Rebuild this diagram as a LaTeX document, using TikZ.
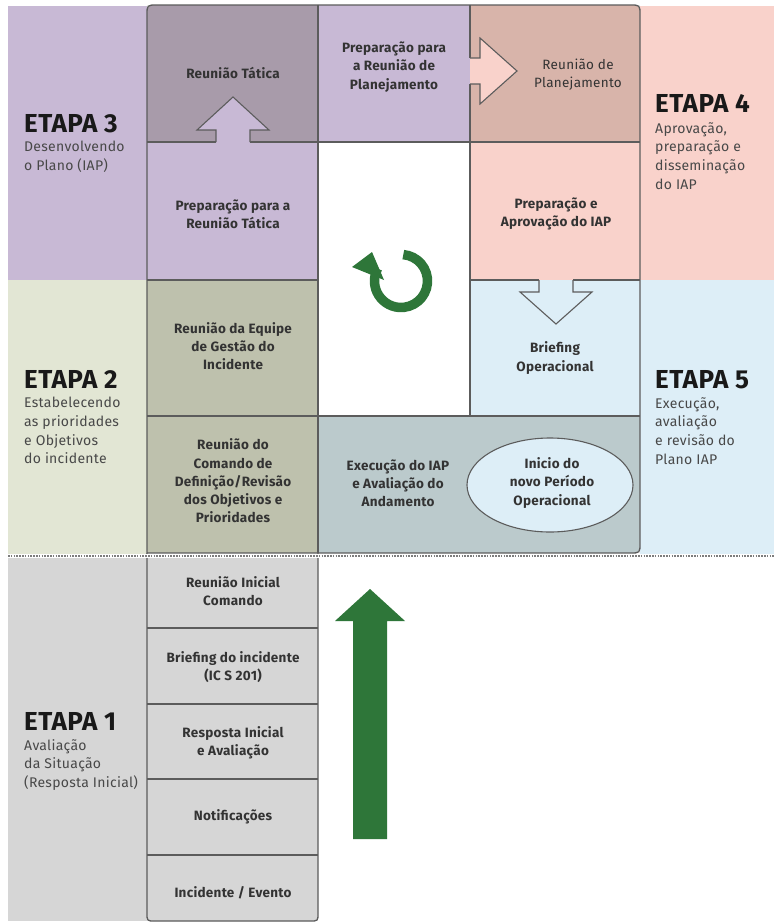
\documentclass[tikz,border=0pt]{standalone}
\usepackage{fontspec}
\setmainfont{Fira Sans}
\usetikzlibrary{shapes.geometric}
\definecolor{purL}{HTML}{C8B9D5}
\definecolor{purD}{HTML}{A89BAA}
\definecolor{pinkD}{HTML}{D8B4AA}
\definecolor{pinkL}{HTML}{F9D2CB}
\definecolor{blueL}{HTML}{DDEEF7}
\definecolor{oliveC}{HTML}{BEC1AD}
\definecolor{greenL}{HTML}{E2E6D4}
\definecolor{bgrayC}{HTML}{BBCACC}
\definecolor{grayL}{HTML}{D6D6D6}
\definecolor{arrowG}{HTML}{2E7639}
\definecolor{bdc}{HTML}{5C5C5C}
\definecolor{txtc}{HTML}{333333}
\definecolor{subc}{HTML}{484848}
\tikzset{
  celltxt/.style={font=\fontsize{13.5}{18.2}\selectfont\bfseries\addfontfeature{LetterSpace=2}, text=txtc, align=center, inner sep=0pt},
  celltxtr/.style={font=\fontsize{13.5}{18.2}\selectfont\addfontfeature{LetterSpace=2}, text=txtc, align=center, inner sep=0pt},
  etapa/.style={font=\fontsize{26}{28}\selectfont\bfseries\addfontfeature{LetterSpace=2}, text=black!90, anchor=base west, inner sep=0pt},
  subtxt/.style={font=\fontsize{14}{18.7}\selectfont\addfontfeature{LetterSpace=2}, text=subc, align=left, anchor=north west, inner sep=0pt},
  bd/.style={draw=bdc, line width=1.3pt},
  hollow/.style={fill=#1, draw=bdc, line width=1.1pt, line join=miter},
}
\begin{document}
\begin{tikzpicture}[x=1pt,y=-1pt]
\useasboundingbox (0,0) rectangle (774,923);
\fill[white] (0,0) rectangle (774,923);

% stage columns
\fill[purL] (8,6) rectangle (147,280);
\fill[greenL] (8,280) rectangle (147,554);
\fill[grayL] (8,558) rectangle (147,921);
\fill[pinkL] (640,6) rectangle (774,280);
\fill[blueL] (640,280) rectangle (774,554);

% main box cells
\begin{scope}
\clip (147,553) -- (147,15) .. controls (147,5) .. (157,5) -- (630,5) .. controls (640,5) .. (640,15) -- (640,543) .. controls (640,553) .. (630,553) -- cycle;
\fill[purD] (147,5) rectangle (318,142);
\fill[purL] (147,142) rectangle (318,280);
\fill[purL] (318,5) rectangle (470,142);
\fill[pinkD] (470,5) rectangle (640,142);
\fill[white] (318,142) rectangle (470,416);
\fill[pinkL] (470,142) rectangle (640,280);
\fill[blueL] (470,280) rectangle (640,416);
\fill[oliveC] (147,280) rectangle (318,553);
\fill[bgrayC] (318,416) rectangle (640,553);
\end{scope}

% bottom stack
\fill[grayL] (147,556) -- (147,913) .. controls (147,921) .. (155,921) -- (310,921) .. controls (318,921) .. (318,913) -- (318,556) -- cycle;
\draw[bd] (147,553) -- (147,913) .. controls (147,921) .. (155,921) -- (310,921) .. controls (318,921) .. (318,913) -- (318,553);
\draw[bd] (147,628) -- (318,628);
\draw[bd] (147,704) -- (318,704);
\draw[bd] (147,779) -- (318,779);
\draw[bd] (147,855) -- (318,855);

% inner grid lines
\draw[bd] (147,142) -- (216,142);
\draw[bd] (250,142) -- (318,142);
\draw[bd] (318,142) -- (640,142);
\draw[bd] (318,5) -- (318,553);
\draw[bd] (470,5) -- (470,58);
\draw[bd] (470,84) -- (470,416);
\draw[bd] (147,280) -- (318,280);
\draw[bd] (470,280) -- (539,280);
\draw[bd] (573,280) -- (640,280);
\draw[bd] (147,416) -- (640,416);

% outline of main box
\draw[bd] (147,553) -- (147,15) .. controls (147,5) .. (157,5) -- (630,5) .. controls (640,5) .. (640,15) -- (640,543) .. controls (640,553) .. (630,553) -- cycle;

% hollow arrows between cells
\filldraw[hollow=purL] (216,142) -- (216,130) -- (197,130) -- (233,97) -- (269,130) -- (250,130) -- (250,142);
\filldraw[hollow=pinkL] (470,58) -- (480,58) -- (480,38) -- (517,71) -- (480,104) -- (480,84) -- (470,84);
\filldraw[hollow=blueL] (539,280) -- (539,292) -- (520,292) -- (556,324) -- (592,292) -- (573,292) -- (573,280);

% dotted separator
\draw[white, line width=3.5pt] (8,556) -- (774,556);
\draw[bdc!80, line width=1.3pt, dash pattern=on 1.6pt off 1.2pt] (8,556) -- (774,556);

% green arrows
\fill[arrowG] (353,839) -- (353,621) -- (335,621) -- (370,589) -- (405,621) -- (387,621) -- (387,839) -- cycle;
\draw[arrowG, line width=9.5pt] (401,281) ++(-85:26.5) arc[start angle=-85, end angle=208, radius=26.5];
\fill[arrowG] (352,267) -- (372,252) -- (384,280) -- cycle;

% ellipse
\node[ellipse, draw=bdc, line width=1.1pt, fill=blueL, minimum width=166pt, minimum height=94pt, inner sep=0pt] (inicioel) at (550,485) {};
\node[celltxt] (inicio) at (552,483) {Inicio do\\novo Período\\Operacional};

% cell texts
\node[celltxt] (rt) at (233,73) {Reunião Tática};
\node[celltxt] (prt) at (233,214) {Preparação para a\\Reunião Tática};
\node[celltxt] (prp) at (394,67) {Preparação para\\a Reunião de\\Planejamento};
\node[celltxtr] (rp) at (578,75) {Reunião de\\Planejamento};
\node[celltxt] (pai) at (556,214) {Preparação e\\Aprovação do IAP};
\node[celltxt] (req) at (233,346) {Reunião da Equipe\\de Gestão do\\Incidente};
\node[celltxt] (rcd) at (233,481) {Reunião do\\Comando de\\Definição/Revisão\\dos Objetivos e\\Prioridades};
\node[celltxt] (bop) at (555,358) {Briefing\\Operacional};
\node[celltxt] (exe) at (398,483) {Execução do IAP\\e Avaliação do\\Andamento};
\node[celltxt] (s1) at (233,591) {Reunião Inicial\\Comando};
\node[celltxt] (s2) at (233,667) {Briefing do incidente\\(IC S 201)};
\node[celltxt] (s3) at (233,743) {Resposta Inicial\\e Avaliação};
\node[celltxt] (s4) at (233,817) {Notificações};
\node[celltxt] (s5) at (233,893) {Incidente / Evento};

% stage labels
\node[etapa] (e3) at (24,132) {ETAPA 3};
\node[subtxt] (e3s) at (24,141) {Desenvolvendo\\o Plano (IAP)};
\node[etapa] (e4) at (655,113) {ETAPA 4};
\node[subtxt] (e4s) at (655,122) {Aprovação,\\preparação e\\disseminação\\do IAP};
\node[etapa] (e2) at (24,388) {ETAPA 2};
\node[subtxt] (e2s) at (24,397) {Estabelecendo\\as prioridades\\e Objetivos\\do incidente};
\node[etapa] (e5) at (655,388) {ETAPA 5};
\node[subtxt] (e5s) at (655,397) {Execução,\\avaliação\\e revisão do\\Plano IAP};
\node[etapa] (e1) at (24,730) {ETAPA 1};
\node[subtxt] (e1s) at (24,739) {Avaliação\\da Situação\\(Resposta Inicial)};
\end{tikzpicture}
\end{document}
